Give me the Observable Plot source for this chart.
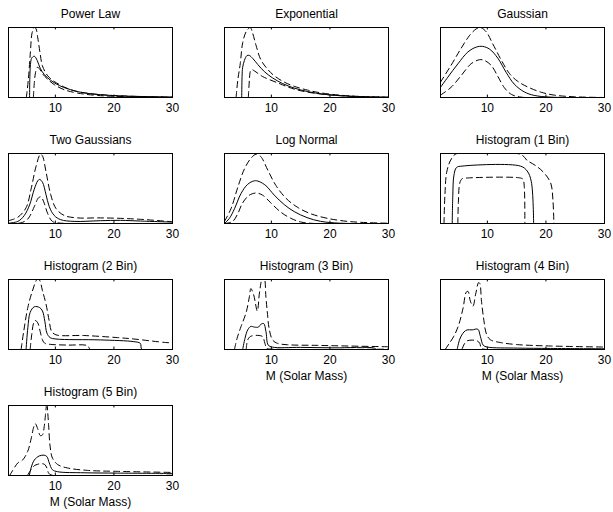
<!DOCTYPE html>
<html>
<head>
<meta charset="utf-8">
<script src="https://cdn.jsdelivr.net/npm/d3@7"></script>
<script src="https://cdn.jsdelivr.net/npm/@observablehq/plot@0.6"></script>
<style>
  html, body { margin: 0; padding: 0; background: #fff; }
  #grid { position: relative; width: 613px; height: 512px; overflow: hidden; }
  #grid svg { position: absolute; overflow: visible; }
</style>
</head>
<body>
<div id="grid"></div>
<script>
// Panel titles, one per mass-distribution model
const titles = [
  "Power Law", "Exponential", "Gaussian",
  "Two Gaussians", "Log Normal", "Histogram (1 Bin)",
  "Histogram (2 Bin)", "Histogram (3 Bin)", "Histogram (4 Bin)",
  "Histogram (5 Bin)"
];
const xTicks = [10, 20, 30];
const xLabel = "M (Solar Mass)";

// Each curve: [mass, relative density] pairs (density scaled to the panel's range)
// median = solid line, upper / lower = dashed bounds
const powerLawUpper = [[5.05,0],[5.4,0.27],[5.74,0.65],[6.02,0.92],[6.4,1.0],[6.7,0.98],[7.0,0.85],[7.4,0.63],[7.8,0.45],[8.7,0.31],[9.8,0.23],[11.5,0.15],[13.2,0.097],[15.5,0.06],[18.9,0.033],[23.4,0.016],[30,0.005]];
const powerLawMedian = [[5.6,0],[5.65,0.3],[5.75,0.47],[5.95,0.56],[6.4,0.59],[6.9,0.53],[7.4,0.42],[8.1,0.33],[9.2,0.245],[10.7,0.17],[12.1,0.125],[14.3,0.075],[17.7,0.04],[22.3,0.02],[30,0.006]];
const powerLawLower = [[6.25,0],[6.4,0.2],[6.6,0.35],[6.9,0.43],[7.3,0.41],[7.8,0.34],[8.7,0.26],[9.8,0.185],[11.5,0.112],[13.8,0.063],[17.2,0.029],[21.7,0.013],[30,0.003]];

const expUpper = [[3.98,0],[4.26,0.24],[4.7,0.49],[5.1,0.78],[5.7,0.94],[6.4,1.0],[6.8,0.92],[7.4,0.74],[8.2,0.54],[9.4,0.4],[10.5,0.31],[12.2,0.22],[13.9,0.16],[16.2,0.105],[18.4,0.067],[21.8,0.033],[25.2,0.015],[30,0.005]];
const expMedian = [[4.94,0],[5.0,0.3],[5.1,0.43],[5.4,0.53],[5.85,0.6],[6.25,0.6],[6.8,0.56],[7.7,0.47],[8.8,0.37],[10.2,0.28],[11.9,0.2],[13.9,0.135],[16.2,0.085],[19,0.045],[22.4,0.022],[26.3,0.009],[30,0.004]];
const expLower = [[6.07,0],[6.25,0.25],[6.4,0.37],[6.6,0.4],[7.1,0.38],[8.5,0.3],[11.05,0.21],[13.9,0.12],[17.3,0.062],[21.8,0.026],[26.3,0.009],[30,0.003]];

const gaussUpper = [[2,0.22],[3.8,0.46],[5.5,0.7],[7,0.89],[8.1,0.98],[8.8,1.0],[9.8,0.94],[10.9,0.77],[12.4,0.53],[13.8,0.34],[15.2,0.23],[16.9,0.15],[19.2,0.075],[21.5,0.033],[24.9,0.01],[30,0]];
const gaussMedian = [[2,0.145],[3.25,0.29],[4.96,0.48],[6.67,0.65],[8.1,0.72],[9.2,0.73],[10.4,0.69],[11.8,0.56],[13.2,0.36],[14.6,0.19],[16.3,0.08],[18,0.03],[20.9,0.005],[30,0]];
const gaussLower = [[2,0.034],[3.8,0.145],[5.5,0.31],[7.2,0.48],[8.66,0.54],[9.5,0.53],[10.65,0.46],[11.8,0.3],[12.9,0.14],[14.1,0.045],[15.8,0.005],[30,0]];

const twoGaussUpper = [[2,0.04],[3.6,0.09],[5,0.225],[5.85,0.49],[6.7,0.815],[7.45,0.99],[7.8,0.965],[8.4,0.74],[9.2,0.415],[10.1,0.215],[11.5,0.115],[13.8,0.08],[17.2,0.08],[20.6,0.075],[24.5,0.06],[30,0.025]];
const twoGaussMedian = [[2,0.005],[3.6,0.03],[4.7,0.115],[5.6,0.265],[6.4,0.49],[7.0,0.61],[7.3,0.63],[7.8,0.59],[8.4,0.415],[8.96,0.24],[9.8,0.115],[10.9,0.055],[13.2,0.03],[17.7,0.04],[21.1,0.045],[24.5,0.035],[30,0.02]];
const twoGaussLower = [[2,0],[4.15,0.01],[5.3,0.065],[6.4,0.24],[7.1,0.365],[7.55,0.38],[8.1,0.29],[8.7,0.14],[9.5,0.03],[10.9,0.005],[30,0]];

const logNormalUpper = [[2,0.03],[3.1,0.21],[4.26,0.515],[5.4,0.78],[6.5,0.93],[7.4,0.99],[8.2,0.955],[9.4,0.76],[10.8,0.54],[12.5,0.36],[14.5,0.23],[16.7,0.14],[19.5,0.075],[22.9,0.031],[26.3,0.013],[30,0.004]];
const logNormalMedian = [[2,0],[2.85,0.075],[3.7,0.21],[4.83,0.43],[5.96,0.56],[7.1,0.61],[7.9,0.6],[9.07,0.54],[10.5,0.405],[12.2,0.27],[13.9,0.17],[16.1,0.084],[18.4,0.031],[21.8,0.004],[30,0]];
const logNormalLower = [[2,0],[3.4,0.03],[4.26,0.14],[5.1,0.295],[6.24,0.405],[7.4,0.435],[8.5,0.405],[9.9,0.295],[11.6,0.163],[13.3,0.075],[15,0.022],[17.3,0],[30,0]];

const hist1Upper = [[2.6,0],[2.75,0.4],[3.1,0.75],[3.9,0.93],[4.8,1.0],[15.1,1.0],[16,0.975],[16.8,0.9],[18.2,0.83],[19.6,0.73],[20.8,0.58],[21.2,0.33],[21.35,0]];
const hist1Median = [[4,0],[4.1,0.4],[4.28,0.68],[4.73,0.8],[5.7,0.82],[15.65,0.82],[16.8,0.75],[17.5,0.6],[17.9,0]];
const hist1Lower = [[4.96,0],[5.05,0.3],[5.3,0.58],[5.7,0.64],[6.55,0.65],[15.65,0.65],[16.1,0.63],[16.3,0.53],[16.4,0]];

const hist2Upper = [[4.15,0],[4.6,0.26],[5.3,0.6],[6.1,0.84],[6.9,1.0],[7.3,0.99],[7.8,0.84],[8.4,0.65],[8.96,0.405],[9.35,0.26],[10.1,0.21],[14.9,0.2],[20.6,0.17],[23.4,0.15],[28.8,0.1],[30,0.095]];
const hist2Median = [[5,0],[5.3,0.31],[5.7,0.53],[6.4,0.61],[7.3,0.6],[7.8,0.55],[8.2,0.405],[8.56,0.234],[9.1,0.17],[10.1,0.15],[17.7,0.137],[23.4,0.112],[24.5,0.088],[24.8,0],[30,0]];
const hist2Lower = [[5.7,0],[5.96,0.21],[6.3,0.38],[6.6,0.415],[7,0.38],[7.4,0.26],[7.8,0.137],[8.2,0.088],[9.2,0.073],[12.1,0.063],[15.5,0.054],[16,0],[30,0]];

const hist3Upper = [[3.7,0],[4.15,0.16],[4.83,0.33],[5.7,0.53],[6.24,0.75],[6.5,0.87],[6.98,0.78],[7.6,0.55],[7.94,0.79],[8.2,0.94],[8.5,1.06],[8.8,1.03],[9.07,0.75],[9.35,0.5],[9.6,0.31],[10.2,0.137],[11.05,0.088],[12.75,0.068],[17.8,0.059],[23.5,0.049],[30,0.039]];
const hist3Median = [[5.1,0],[5.5,0.16],[5.96,0.28],[6.5,0.33],[7.1,0.32],[7.8,0.32],[8.2,0.36],[8.7,0.37],[9.07,0.26],[9.47,0.063],[10.2,0.034],[15,0.03],[20.7,0.024],[27.5,0.022],[28,0],[30,0]];
const hist3Lower = [[5.7,0],[5.96,0.137],[6.4,0.185],[7.1,0.2],[7.9,0.2],[8.5,0.185],[8.9,0.088],[9.2,0.015],[9.5,0.008],[30,0.005]];

const hist4Upper = [[2.8,0],[3.4,0.075],[4.28,0.19],[5.1,0.35],[5.85,0.59],[6.4,0.82],[6.7,0.83],[7.1,0.69],[7.55,0.62],[8,0.79],[8.5,0.955],[8.7,0.945],[9,0.69],[9.4,0.42],[9.85,0.22],[10.5,0.14],[12.2,0.1],[15.1,0.07],[20.8,0.05],[30,0.035]];
const hist4Median = [[4.85,0],[5.3,0.15],[6,0.25],[6.55,0.28],[7.4,0.28],[8.37,0.29],[8.8,0.19],[9.3,0.06],[10,0.035],[15.1,0.02],[20.8,0.015],[30,0.01]];
const hist4Lower = [[5.7,0.01],[6.1,0.084],[6.55,0.124],[7.4,0.134],[8.26,0.124],[8.7,0.089],[8.94,0.025],[9.4,0.005],[30,0.005]];

const hist5Upper = [[2.2,0],[2.7,0.07],[3.6,0.18],[4.4,0.22],[5.3,0.35],[5.85,0.52],[6.3,0.69],[6.58,0.74],[6.98,0.67],[7.43,0.57],[7.8,0.58],[8.1,0.7],[8.3,0.86],[8.45,0.985],[8.56,1.05],[8.7,0.9],[8.85,0.72],[9.1,0.42],[9.5,0.25],[10.4,0.156],[12.1,0.107],[15.5,0.073],[20.6,0.059],[30,0.044]];
const hist5Median = [[5.56,0],[5.85,0.107],[6.4,0.22],[7.26,0.28],[8.1,0.29],[8.56,0.27],[8.96,0.18],[9.5,0.083],[10.4,0.054],[14.9,0.039],[20.6,0.034],[30,0.03]];
const hist5Lower = [[5.3,0.01],[5.85,0.083],[6.4,0.14],[6.98,0.16],[7.65,0.17],[8.2,0.156],[8.56,0.107],[8.85,0.034],[9.24,0.01],[30,0.005]];

const curves = [
  [powerLawMedian, powerLawUpper, powerLawLower],
  [expMedian, expUpper, expLower],
  [gaussMedian, gaussUpper, gaussLower],
  [twoGaussMedian, twoGaussUpper, twoGaussLower],
  [logNormalMedian, logNormalUpper, logNormalLower],
  [hist1Median, hist1Upper, hist1Lower],
  [hist2Median, hist2Upper, hist2Lower],
  [hist3Median, hist3Upper, hist3Lower],
  [hist4Median, hist4Upper, hist4Lower],
  [hist5Median, hist5Upper, hist5Lower]
];

// Grid layout: 4 rows x 3 columns of equal plot boxes
const boxW = 164, boxH = 70;
const colLeft = [8, 224, 440];
const rowTop = [27, 153, 279, 405];
const margin = {top: 26, right: 16, bottom: 40, left: 10};
const font = "'Liberation Sans', Arial, Helvetica, sans-serif";

const grid = document.getElementById("grid");

titles.forEach((title, i) => {
  const row = Math.floor(i / 3), col = i % 3;
  const [median, upper, lower] = curves[i];
  const bottomOfColumn = i >= 7;
  const line = (data, dashed) => Plot.line(data, {
    x: d => d[0], y: d => d[1],
    stroke: "black", strokeWidth: 1,
    strokeDasharray: dashed ? "6,4" : null,
    curve: "catmull-rom", clip: true
  });
  const marks = [
    line(upper, true),
    line(lower, true),
    line(median, false),
    Plot.frame({stroke: "black", strokeWidth: 1}),
    // inward tick marks on bottom and top edges
    Plot.ruleX(xTicks, {y1: 0, y2: 0.035, stroke: "black"}),
    Plot.ruleX(xTicks, {y1: 0.965, y2: 1, stroke: "black"}),
    Plot.axisX({anchor: "bottom", ticks: xTicks, tickSize: 0, tickPadding: 6, tickFormat: d => String(d), fontSize: 12}),
    Plot.text([title], {frameAnchor: "top", lineAnchor: "middle", dy: -13, fontSize: 12, fill: "black"})
  ];
  if (bottomOfColumn) {
    marks.push(Plot.text([xLabel], {frameAnchor: "bottom", lineAnchor: "middle", dy: 27, fontSize: 12, fill: "black"}));
  }
  const svg = Plot.plot({
    width: margin.left + boxW + margin.right,
    height: margin.top + boxH + margin.bottom,
    marginTop: margin.top, marginRight: margin.right,
    marginBottom: margin.bottom, marginLeft: margin.left,
    x: {domain: [2, 30]},
    y: {domain: [0, 1], axis: null},
    style: {background: "transparent", fontFamily: font, fontSize: "12px", color: "black", overflow: "visible"},
    marks
  });
  svg.style.left = (colLeft[col] - margin.left) + "px";
  svg.style.top = (rowTop[row] - margin.top) + "px";
  grid.appendChild(svg);
});
</script>
</body>
</html>
